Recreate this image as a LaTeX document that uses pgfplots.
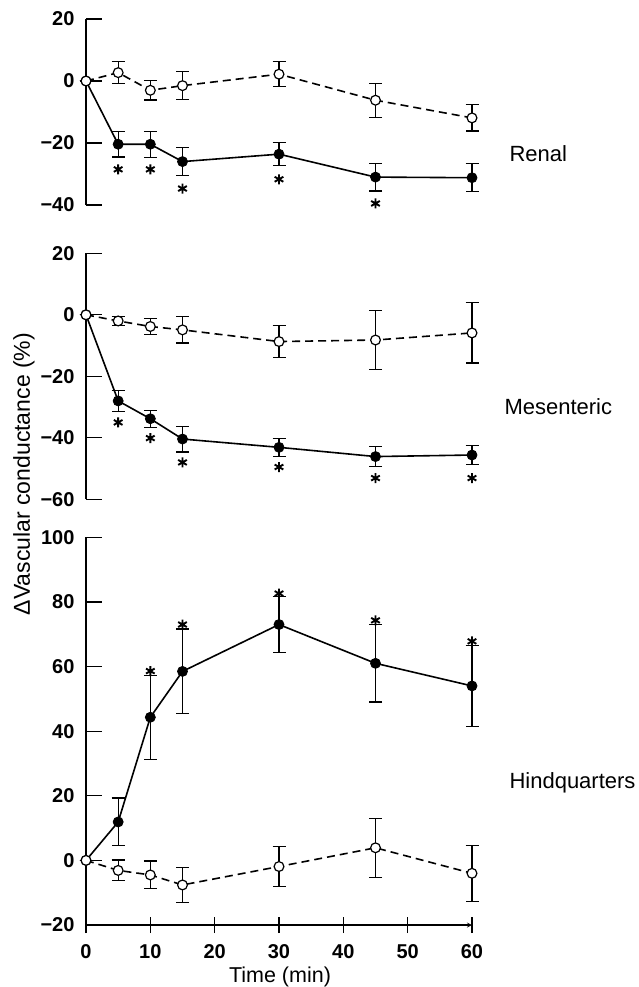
\documentclass[border=0pt]{standalone}
\usepackage{fontspec}
\setmainfont{Liberation Sans}
\usepackage{pgfplots}
\pgfplotsset{compat=1.18}
\pgfplotsset{
  panel/.style={
    scale only axis, width=386pt, xmin=0, xmax=60, clip=false,
    axis y line=left, axis line style={-, line width=1.2pt},
    tick align=inside, major tick length=16pt,
    tick style={line width=1.2pt, black},
    yticklabel style={font=\fontsize{20}{20}\selectfont\bfseries, xshift=-8pt},
    xticklabel style={font=\fontsize{20}{20}\selectfont\bfseries, yshift=-8pt},
  },
  filled/.style={black, solid, line width=1.6pt, mark=*, mark size=5pt,
    mark options={solid, fill=black, line width=0.8pt},
    error bars/.cd, y dir=both, y explicit,
    error bar style={solid, line width=1.2pt},
    error mark options={rotate=90, mark size=6.5pt, line width=1.2pt}},
  open/.style={black, line width=1.6pt, dash pattern=on 8pt off 5pt, mark=*, mark size=4.9pt,
    mark options={solid, fill=white, line width=1.2pt},
    error bars/.cd, y dir=both, y explicit,
    error bar style={solid, line width=1.2pt},
    error mark options={rotate=90, mark size=6.5pt, line width=1.2pt}},
  star/.style={only marks, black, mark=asterisk, mark size=5pt, mark options={line width=1.9pt}},
}
\begin{document}
\begin{tikzpicture}
\useasboundingbox (0pt,0pt) rectangle (639pt,-987pt);
% Renal
\begin{axis}[panel, at={(86pt,-205pt)}, anchor=south west, height=186pt,
  axis x line=none, xtick=\empty,
  ymin=-40, ymax=20, ytick={-40,-20,0,20}, yticklabels={−40,−20,0,20}]
\addplot[filled] table[x=x, y=y, y error=e] {
x y e
0 0 0
5 -20.4 4.1
10 -20.4 4.2
15 -26 4.6
30 -23.6 3.7
45 -31 4.5
60 -31.2 4.5
};
\addplot[open] table[x=x, y=y, y error=e] {
x y e
0 0 0
5 2.7 3.6
10 -3.0 3.1
15 -1.5 4.5
30 2.2 4
45 -6.2 5.5
60 -11.9 4.2
};
\addplot[star] coordinates {(5,-28.5) (10,-28.5) (15,-34.7) (30,-31.7) (45,-39.5)};
\end{axis}
% Mesenteric
\begin{axis}[panel, at={(86pt,-499.3pt)}, anchor=south west, height=246pt,
  axis x line=none, xtick=\empty,
  ymin=-60, ymax=20, ytick={-60,-40,-20,0,20}, yticklabels={−60,−40,−20,0,20}]
\addplot[filled] table[x=x, y=y, y error=e] {
x y e
0 0 0
5 -28 3.4
10 -33.8 2.8
15 -40.4 4.2
30 -43.1 3
45 -46.1 3.3
60 -45.6 3
};
\addplot[open] table[x=x, y=y, y error=e] {
x y e
0 0 0
5 -2 1.5
10 -3.8 2.5
15 -4.9 4.3
30 -8.7 5.3
45 -8.2 9.6
60 -5.9 9.8
};
\addplot[star] coordinates {(5,-35) (10,-40.1) (15,-48) (30,-49.5) (45,-53.1) (60,-53.1)};
\end{axis}
% Hindquarters
\begin{axis}[panel, at={(86pt,-925pt)}, anchor=south west, height=387.7pt,
  axis x line=bottom, xtick={0,10,20,30,40,50,60}, xticklabels={0,10,20,30,40,50,60},
  ymin=-20, ymax=100, ytick={-20,0,20,40,60,80,100}, yticklabels={−20,0,20,40,60,80,100}]
\addplot[filled] table[x=x, y=y, y error=e] {
x y e
0 0 0
5 11.9 7.4
10 44.3 13
15 58.5 13.1
30 73 8.6
45 61 12
60 54 12.5
};
\addplot[open] table[x=x, y=y, y error=e] {
x y e
0 0 0
5 -3.1 3.2
10 -4.5 4.3
15 -7.6 5.5
30 -1.9 6.3
45 3.9 9.1
60 -4 8.7
};
\addplot[star] coordinates {(10,58.6) (15,73) (30,82.6) (45,74.3) (60,67.8)};
\end{axis}
\node[anchor=west, font=\fontsize{22}{22}\selectfont] at (506pt,-154pt) {Renal};
\node[anchor=west, font=\fontsize{22}{22}\selectfont] at (501pt,-407pt) {Mesenteric};
\node[anchor=west, font=\fontsize{22}{22}\selectfont] at (506pt,-783pt) {Hindquarters};
\node[rotate=90, font=\fontsize{23}{23}\selectfont] at (24pt,-474pt) {ΔVascular conductance (\%)};
\node[font=\fontsize{21.5}{21.5}\selectfont] at (280pt,-977pt) {Time (min)};
\end{tikzpicture}
\end{document}
